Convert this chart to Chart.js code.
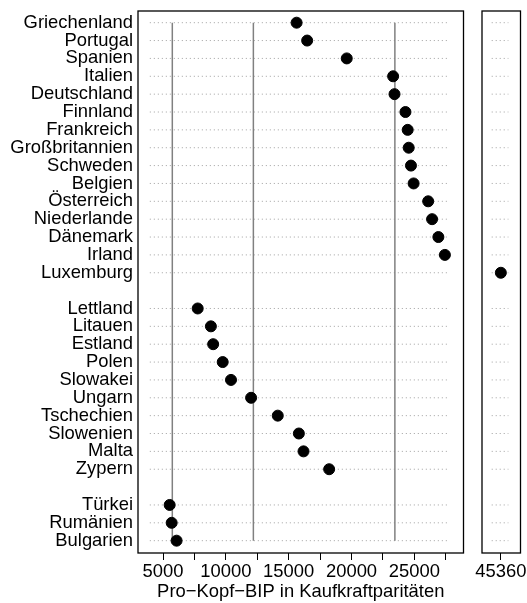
<!DOCTYPE html>
<html lang="de">
<head>
<meta charset="UTF-8" />
<title>Pro-Kopf-BIP in Kaufkraftparitäten</title>
<script src="https://cdn.jsdelivr.net/npm/chart.js"></script>
<style>
  body { margin: 0; background: #fff; }
  #wrap { position: relative; width: 527px; height: 603px; }
  #mainBox { position: absolute; left: 0; top: 0; width: 470px; height: 603px; }
  #sideBox { position: absolute; left: 440px; top: 0; width: 87px; height: 603px; }
</style>
</head>
<body>
<div id="wrap">
  <div id="mainBox"><canvas id="mainChart"></canvas></div>
  <div id="sideBox"><canvas id="sideChart"></canvas></div>
</div>
<script>
// three country groups, top to bottom
const groupA = ["Griechenland", "Portugal", "Spanien", "Italien", "Deutschland", "Finnland", "Frankreich",
  "Großbritannien", "Schweden", "Belgien", "Österreich", "Niederlande", "Dänemark", "Irland", "Luxemburg"];
const valuesA = [15630, 16470, 19620, 23310, 23420, 24290, 24470, 24550, 24730, 24940, 26100, 26410, 26910, 27430, 45360];
const groupB = ["Lettland", "Litauen", "Estland", "Polen", "Slowakei", "Ungarn", "Tschechien", "Slowenien", "Malta", "Zypern"];
const valuesB = [7760, 8810, 8990, 9750, 10410, 12010, 14130, 15810, 16180, 18220];
const groupC = ["Türkei", "Rumänien", "Bulgarien"];
const valuesC = [5530, 5690, 6080];

// vertical reference lines (group averages)
const refLines = [5740, 12190, 23450];

// axis ticks
const mainTicks = [5000, 7500, 10000, 12500, 15000, 17500, 20000, 22500, 25000, 27500];
const sideTicks = [45360];
const axisTitle = "Pro\u2212Kopf\u2212BIP in Kaufkraftparitäten";

// build rows with an empty row between the groups
const labels = [...groupA, "", ...groupB, "", ...groupC];
const values = [...valuesA, null, ...valuesB, null, ...valuesC];
const nRows = labels.length;

const font = { family: "'Liberation Sans', Arial, sans-serif", size: 18.4 };

const panelBox = {
  id: "panelBox",
  afterDraw(chart) {
    const { ctx, chartArea: a } = chart;
    ctx.save();
    ctx.strokeStyle = "#000";
    ctx.lineWidth = 1.3;
    ctx.strokeRect(a.left, a.top, a.right - a.left, a.bottom - a.top);
    ctx.restore();
  },
};

function noPad(s) {
  s.paddingTop = 0;
  s.paddingBottom = 0;
  s.paddingLeft = 0;
  s.paddingRight = 0;
}

function makePanel(canvasId, xMin, xMax, guideFrom, guideTo, ticks, showLabels, leftWidth) {
  const datasets = [];

  // dots
  const pts = [];
  values.forEach((v, i) => {
    if (v !== null && v >= xMin && v <= xMax) pts.push({ x: v, y: i });
  });
  datasets.push({ data: pts, backgroundColor: "#000", borderColor: "#000", pointRadius: 5.5, order: 0 });

  // reference lines
  refLines.forEach((m) => {
    if (m >= xMin && m <= xMax) {
      datasets.push({
        data: [{ x: m, y: 0 }, { x: m, y: nRows - 1 }],
        showLine: true, borderColor: "#808080", borderWidth: 1.5, pointRadius: 0, order: 1,
      });
    }
  });

  // dotted guide lines
  labels.forEach((lab, i) => {
    if (lab === "") return;
    datasets.push({
      data: [{ x: guideFrom, y: i }, { x: guideTo, y: i }],
      showLine: true, borderColor: "#a0a0a0", borderWidth: 1, borderDash: [1, 3], pointRadius: 0, order: 2,
    });
  });

  return new Chart(document.getElementById(canvasId), {
    type: "scatter",
    data: { datasets },
    plugins: [panelBox],
    options: {
      responsive: true,
      maintainAspectRatio: false,
      animation: false,
      layout: { padding: { top: 11, right: 3, left: 0, bottom: 0 } },
      plugins: { legend: { display: false }, tooltip: { enabled: false } },
      scales: {
        x: {
          type: "linear",
          min: xMin,
          max: xMax,
          afterBuildTicks: (s) => { s.ticks = ticks.map((v) => ({ value: v })); },
          afterFit: (s) => { s.height = 50; noPad(s); },
          grid: { display: true, drawOnChartArea: false, drawTicks: true, tickLength: 7, color: "#000" },
          border: { display: false },
          ticks: {
            autoSkip: false,
            maxRotation: 0,
            padding: 1,
            color: "#000",
            font,
            callback: (v) => (v % 5000 === 0 || ticks.length === 1 ? String(v) : ""),
          },
          title: {
            display: showLabels,
            text: axisTitle,
            color: "#000",
            font,
            padding: { top: 0, bottom: 0 },
          },
        },
        y: {
          type: "linear",
          reverse: true,
          min: -0.655,
          max: nRows - 1 + 0.69,
          afterBuildTicks: (s) => { s.ticks = labels.map((_, i) => ({ value: i })); },
          afterFit: (s) => { s.width = leftWidth; noPad(s); },
          grid: { display: false, drawTicks: false },
          border: { display: false },
          ticks: {
            display: showLabels,
            autoSkip: false,
            padding: 5,
            color: "#000",
            font,
            callback: (v) => labels[v] || "",
          },
        },
      },
    },
  });
}

makePanel("mainChart", 3010, 28910, 3950, 27720, mainTicks, true, 138);
makePanel("sideChart", 43730, 47060, 44570, 46010, sideTicks, false, 42);
</script>
</body>
</html>
